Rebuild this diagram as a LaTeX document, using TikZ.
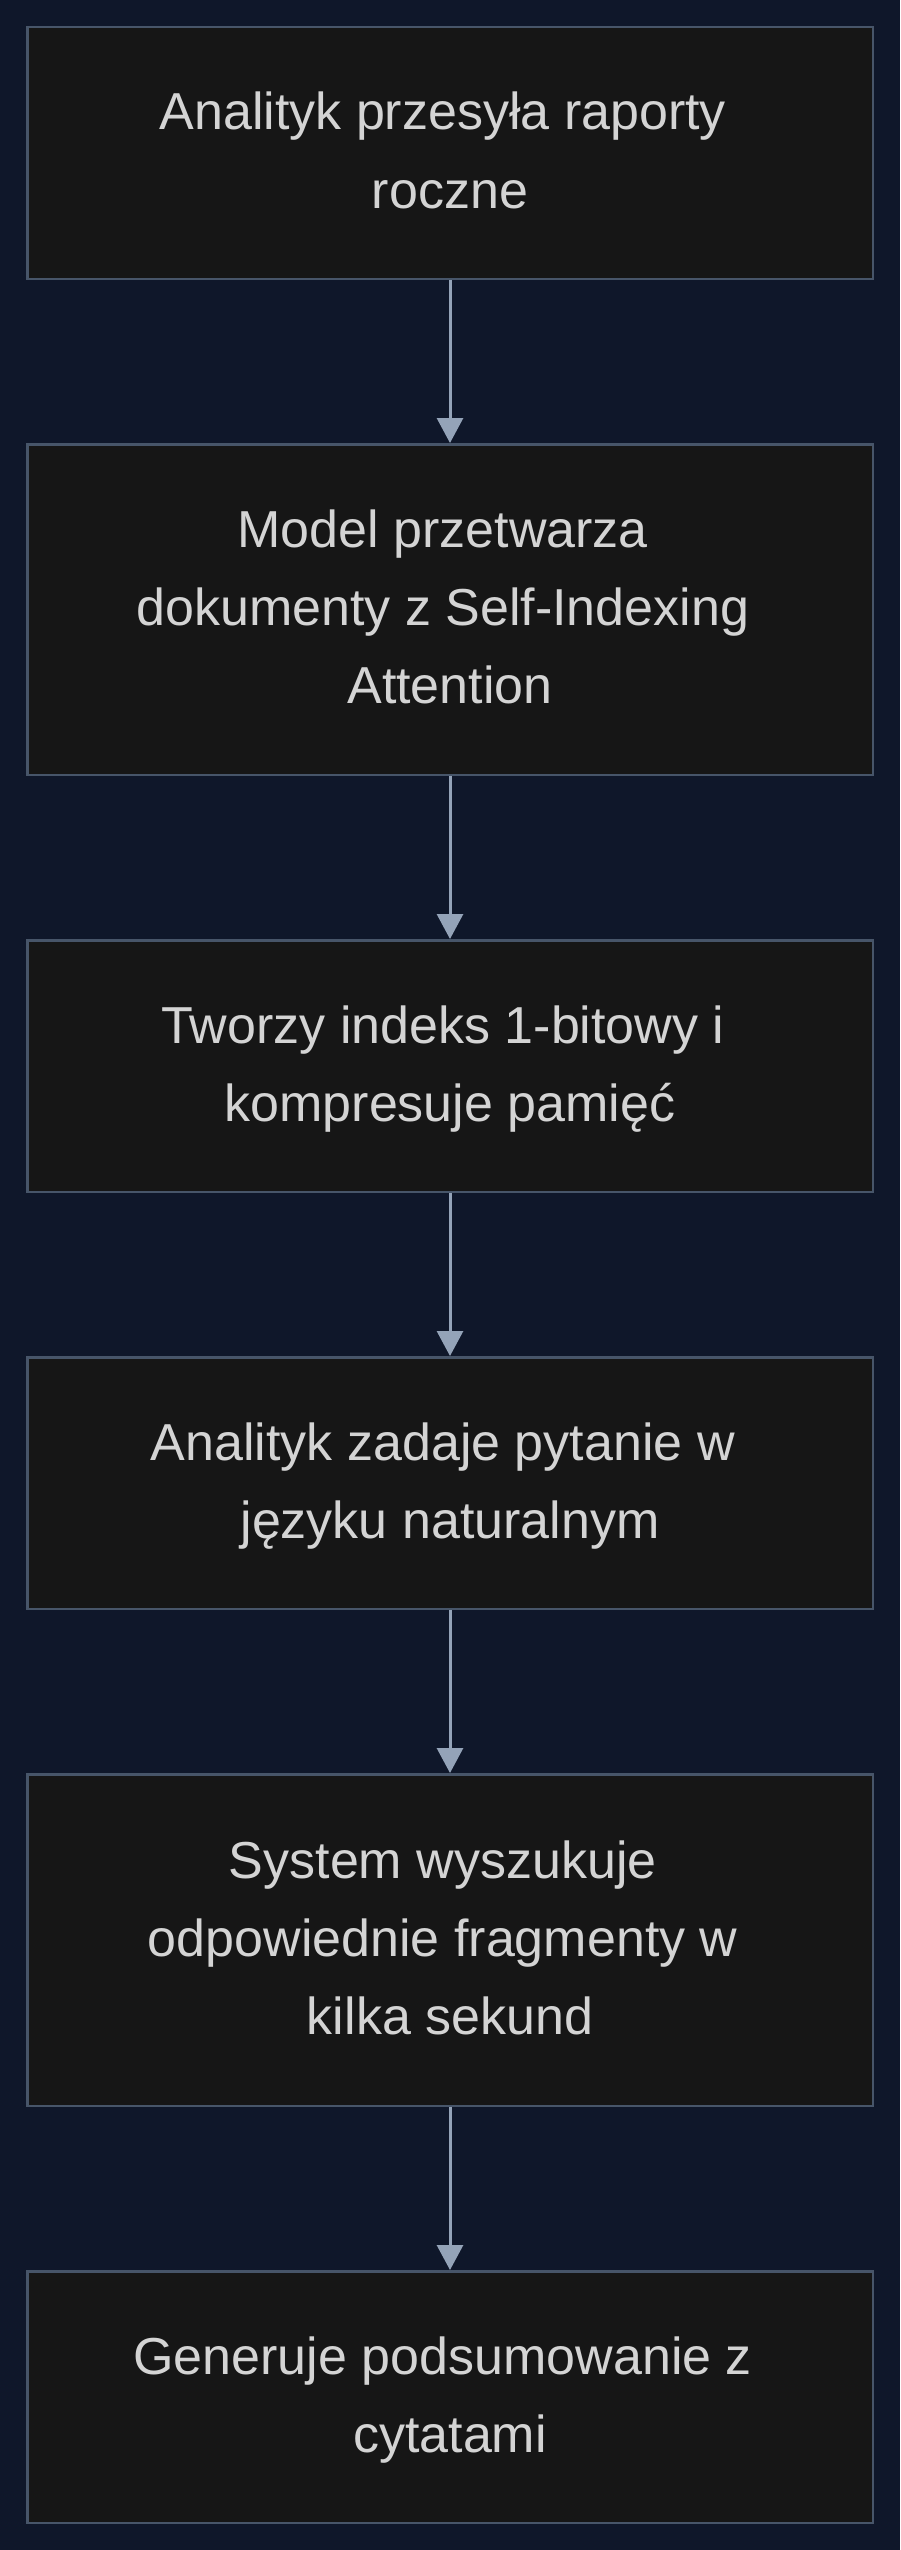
\documentclass[tikz,border=0pt]{standalone}
\usepackage{fontspec}
\setmainfont{Liberation Sans}
\usetikzlibrary{arrows.meta}
\definecolor{bgc}{HTML}{0F172A}
\definecolor{boxfill}{HTML}{161616}
\definecolor{boxline}{HTML}{475569}
\definecolor{arrowc}{HTML}{94A3B8}
\definecolor{txt}{HTML}{D4D4D4}
\newcommand{\tup}{\rule{0pt}{45pt}}
\newcommand{\tdn}{\rule[-13pt]{0pt}{13pt}}
\newcommand{\tsp}{\kern14.46pt}
\begin{document}
\begin{tikzpicture}[x=1pt,y=-1pt,
  stepbox/.style={draw=boxline, fill=boxfill, line width=2.5pt,
    minimum width=845.5pt, inner sep=0pt, align=center, text=txt,
    font=\fontsize{52}{78}\selectfont},
  flow/.style={draw=arrowc, line width=3pt,
    -{Triangle[length=25pt,width=26pt]}}]
\fill[bgc] (0,0) rectangle (900,2550);
\useasboundingbox (0,0) rectangle (900,2550);
\node[stepbox, minimum height=251.5pt] (s1) at (450,153)
  {\tup Analityk przesyła raporty\tsp\\roczne\tdn};
\node[stepbox, minimum height=330.5pt] (s2) at (450,609.5)
  {\tup Model przetwarza\tsp\\dokumenty z Self-Indexing\tsp\\Attention\tdn};
\node[stepbox, minimum height=251.5pt] (s3) at (450,1066)
  {\tup Tworzy indeks 1-bitowy i\tsp\\kompresuje pamięć\tdn};
\node[stepbox, minimum height=251.5pt] (s4) at (450,1483)
  {\tup Analityk zadaje pytanie w\tsp\\języku naturalnym\tdn};
\node[stepbox, minimum height=331.5pt] (s5) at (450,1940)
  {\tup System wyszukuje\tsp\\odpowiednie fragmenty w\tsp\\kilka sekund\tdn};
\node[stepbox, minimum height=251.5pt] (s6) at (450,2397)
  {\tup Generuje podsumowanie z\tsp\\cytatami\tdn};
\draw[flow] (s1.south) -- (s2.north);
\draw[flow] (s2.south) -- (s3.north);
\draw[flow] (s3.south) -- (s4.north);
\draw[flow] (s4.south) -- (s5.north);
\draw[flow] (s5.south) -- (s6.north);
\end{tikzpicture}
\end{document}
